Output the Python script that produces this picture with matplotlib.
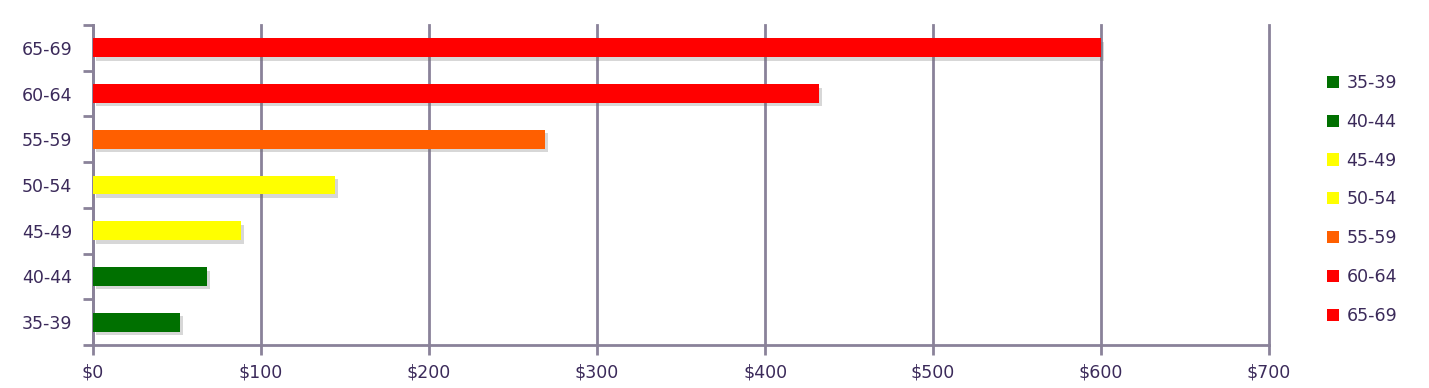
import matplotlib.pyplot as plt
import matplotlib.patheffects as pe
from matplotlib.patches import Patch
from matplotlib.ticker import FuncFormatter, FixedLocator

age_groups = ['35-39', '40-44', '45-49', '50-54', '55-59', '60-64', '65-69']
costs = [52, 68, 88, 144, 269, 432, 600]
colors = ['#007000', '#007000', '#ffff00', '#ffff00', '#ff5f00', '#ff0000', '#ff0000']
x_ticks = [0, 100, 200, 300, 400, 500, 600, 700]

axis_col = '#8a8299'
text_col = '#3b2a5a'

fig = plt.figure(figsize=(14.29, 3.88), dpi=100)
ax = fig.add_axes([0.0651, 0.1108, 0.8230, 0.8248])

ypos = list(range(len(age_groups)))
bars = ax.barh(ypos, costs, height=0.41, color=colors, zorder=3)
for b in bars:
    b.set_path_effects([pe.SimplePatchShadow(offset=(2, -2.5), shadow_rgbFace='#707070', alpha=0.28),
                        pe.Normal()])

ax.set_xlim(0, 700)
ax.set_ylim(-0.5, len(age_groups) - 0.5)
ax.set_xticks(x_ticks)
ax.xaxis.set_major_formatter(FuncFormatter(lambda v, p: f'${v:.0f}'))
ax.set_yticks(ypos)
ax.set_yticklabels(age_groups)
ax.yaxis.set_minor_locator(FixedLocator([i - 0.5 for i in range(len(age_groups) + 1)]))

ax.tick_params(axis='y', which='major', length=0, pad=15, labelsize=12.5, labelcolor=text_col)
ax.tick_params(axis='y', which='minor', length=7, width=2, color=axis_col, direction='out')
ax.tick_params(axis='x', which='major', length=7, width=2, color=axis_col, direction='out',
               pad=6, labelsize=12.5, labelcolor=text_col)

ax.grid(axis='x', color=axis_col, lw=2, zorder=0)
for gl in ax.get_xgridlines():
    gl.set_clip_on(False)
ax.set_axisbelow(True)
for s in ['top', 'right']:
    ax.spines[s].set_visible(False)
for s in ['left', 'bottom']:
    ax.spines[s].set_color(axis_col)
    ax.spines[s].set_linewidth(2)

handles = [Patch(facecolor=c, edgecolor='none') for c in colors]
fig.legend(handles, age_groups, loc='upper left', bbox_to_anchor=(0.9227, 0.832),
           frameon=False, fontsize=12.5, labelcolor=text_col, handlelength=0.7,
           handleheight=0.7, handletextpad=0.4, labelspacing=1.2, borderpad=0)

fig.savefig('out.png', dpi=100)
